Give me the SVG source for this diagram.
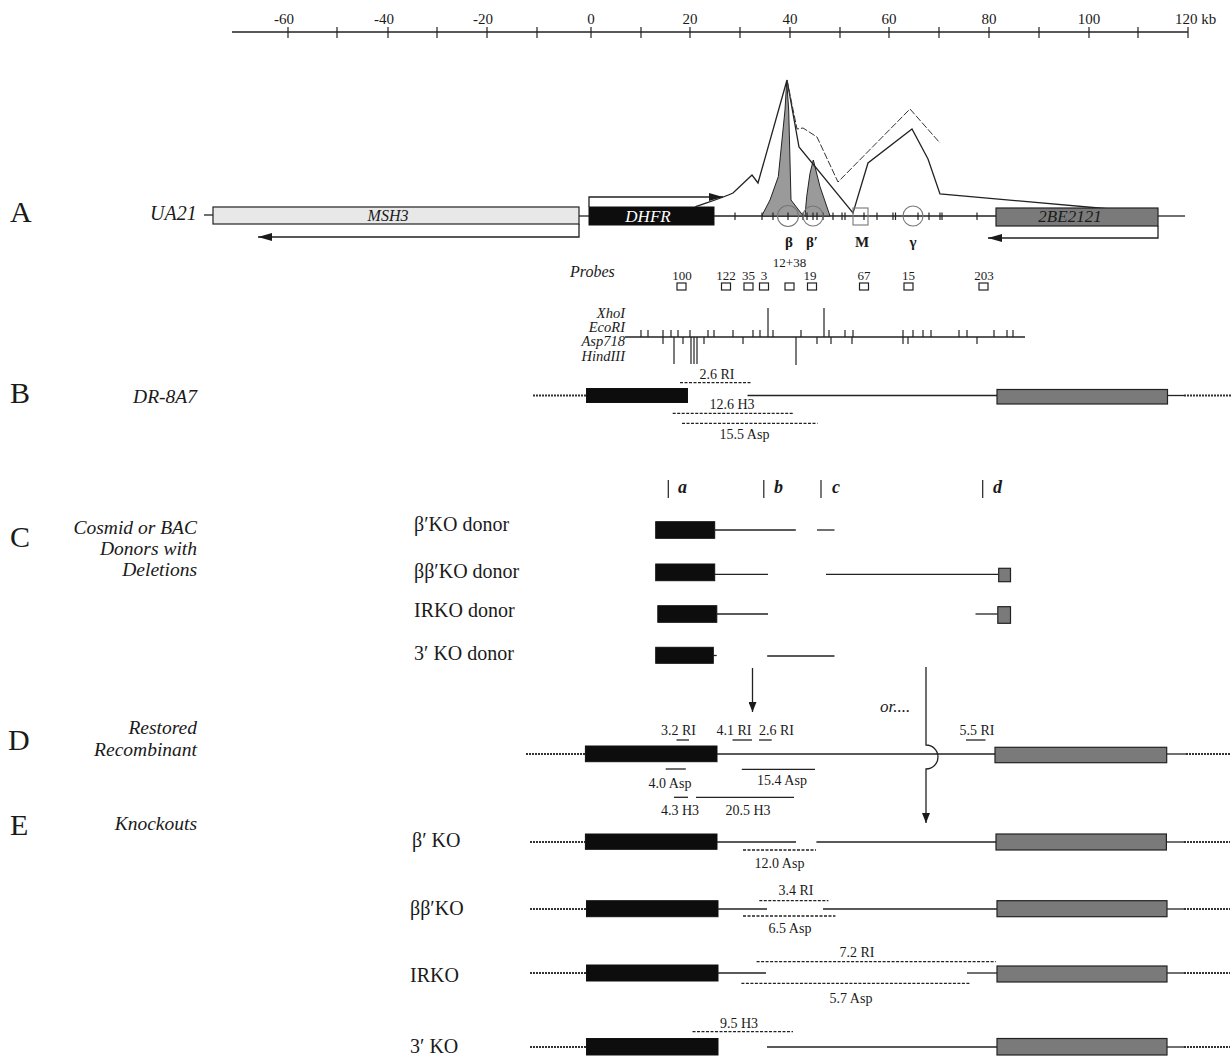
<svg xmlns="http://www.w3.org/2000/svg" width="1232" height="1058" viewBox="0 0 1232 1058">
<defs>
<marker id="ah" markerUnits="userSpaceOnUse" markerWidth="14" markerHeight="8" refX="14" refY="4" orient="auto">
<path d="M0,0 L14,4 L0,8 Z" fill="#1a1a1a"/>
</marker>
<marker id="ahs" markerUnits="userSpaceOnUse" markerWidth="10" markerHeight="8" refX="10" refY="4" orient="auto">
<path d="M0,0 L10,4 L0,8 Z" fill="#1a1a1a"/>
</marker>
</defs>
<style>
text{font-family:"Liberation Serif","DejaVu Serif",serif;fill:#1a1a1a}
.ln{stroke:#222;stroke-width:1.3;fill:none}
.tk{stroke:#222;stroke-width:1.2}
.dot{stroke:#333;stroke-width:2;stroke-dasharray:2 1;fill:none}
.dsh{stroke:#222;stroke-width:1.3;stroke-dasharray:3 1.5;fill:none}
.blk{fill:#0d0d0d;stroke:#111;stroke-width:1}
.gry{fill:#7a7a7a;stroke:#222;stroke-width:1.2}
.pan{font-size:30px}
.lab{font-size:19.5px;font-style:italic;text-anchor:end}
.row{font-size:20px}
.sm{font-size:14px;text-anchor:middle}
.sc{font-size:15px;text-anchor:middle}
.pr{font-size:13px;text-anchor:middle}
.en{font-size:14.5px;font-style:italic;text-anchor:end}
.gk{font-size:15px;font-weight:bold;text-anchor:middle}
.reg{font-size:18px;font-style:italic;font-weight:bold}
.pb{fill:#fff;stroke:#222;stroke-width:1.2}
.cir{fill:none;stroke:#777;stroke-width:1.1}
</style>

<g id="scale">
<line class="ln" x1="232" y1="32" x2="1188" y2="32"/>
<g class="tk">
<line x1="288" y1="27" x2="288" y2="38"/><line x1="337" y1="27" x2="337" y2="38"/><line x1="388" y1="27" x2="388" y2="38"/><line x1="437" y1="27" x2="437" y2="38"/><line x1="487" y1="27" x2="487" y2="38"/><line x1="537" y1="27" x2="537" y2="38"/><line x1="591" y1="27" x2="591" y2="38"/><line x1="641" y1="27" x2="641" y2="38"/><line x1="690" y1="27" x2="690" y2="38"/><line x1="740" y1="27" x2="740" y2="38"/><line x1="790" y1="27" x2="790" y2="38"/><line x1="840" y1="27" x2="840" y2="38"/><line x1="889" y1="27" x2="889" y2="38"/><line x1="939" y1="27" x2="939" y2="38"/><line x1="989" y1="27" x2="989" y2="38"/><line x1="1039" y1="27" x2="1039" y2="38"/><line x1="1089" y1="27" x2="1089" y2="38"/><line x1="1138" y1="27" x2="1138" y2="38"/><line x1="1188" y1="27" x2="1188" y2="38"/>
</g>
<text class="sc" x="284" y="24">-60</text><text class="sc" x="384" y="24">-40</text><text class="sc" x="483" y="24">-20</text><text class="sc" x="591" y="24">0</text><text class="sc" x="690" y="24">20</text><text class="sc" x="790" y="24">40</text><text class="sc" x="889" y="24">60</text><text class="sc" x="989" y="24">80</text><text class="sc" x="1089" y="24">100</text><text x="1175" y="24" font-size="15">120 kb</text>
</g>

<g id="panelA">
<text class="pan" x="10" y="222">A</text>
<text x="150" y="220" font-size="20" font-style="italic">UA21</text>
<line class="ln" x1="204" y1="215" x2="213" y2="215"/>
<g id="msh3">
<rect x="213" y="207" width="366" height="17" fill="#e8e8e8" stroke="#222" stroke-width="1.2"/>
<text x="388" y="221" font-size="16" font-style="italic" text-anchor="middle">MSH3</text>
<polyline class="ln" points="579,224 579,237 258,237" marker-end="url(#ah)"/>
</g>
<line class="ln" x1="579" y1="216" x2="589" y2="216"/>
<g id="dhfr">
<rect class="blk" x="589" y="207" width="125" height="18"/>
<text x="648" y="222" font-size="17" font-style="italic" text-anchor="middle" style="fill:#fff">DHFR</text>
<polyline class="ln" points="589,207 589,197 723,197" marker-end="url(#ah)"/>
</g>
<line class="ln" x1="714" y1="216" x2="996" y2="216"/>
<line class="ln" x1="1158" y1="216" x2="1185" y2="216"/>
<g id="profile">
<path d="M761.7,216 L770,200 L778.3,176.7 L785,110 L786.7,81 L788.7,110 L791,200 L803.3,216 Z" fill="#9a9a9a" stroke="#222" stroke-width="1"/>
<path d="M805,216 L806.7,196.7 L810,173.3 L813.3,160 L820,186.7 L830,216 Z" fill="#9a9a9a" stroke="#222" stroke-width="1"/>
<path class="ln" stroke-width="1.8" d="M695,207 C706,203 722,198 733,193 L752,175 L758,183 L787,80 L799,147 L853,213 L868,163 L912,129 L928,159 L940,194 L1110,209"/>
<path d="M787,80 L797,129 L803,128 L817,137 L838,182 L910,109 L940,143" fill="none" stroke="#333" stroke-width="1" stroke-dasharray="7 2"/>
</g>
<g class="tk">
<line x1="735" y1="212.5" x2="735" y2="220"/><line x1="762" y1="212.5" x2="762" y2="220"/><line x1="773" y1="212.5" x2="773" y2="220"/><line x1="788" y1="212.5" x2="788" y2="220"/><line x1="803" y1="212.5" x2="803" y2="220"/><line x1="807" y1="212.5" x2="807" y2="220"/><line x1="813" y1="212.5" x2="813" y2="220"/><line x1="817" y1="212.5" x2="817" y2="220"/><line x1="823" y1="212.5" x2="823" y2="220"/><line x1="833" y1="212.5" x2="833" y2="220"/><line x1="842" y1="212.5" x2="842" y2="220"/><line x1="845" y1="212.5" x2="845" y2="220"/><line x1="864" y1="212.5" x2="864" y2="220"/><line x1="877" y1="212.5" x2="877" y2="220"/><line x1="893" y1="212.5" x2="893" y2="220"/><line x1="895.5" y1="212.5" x2="895.5" y2="220"/><line x1="918" y1="212.5" x2="918" y2="220"/><line x1="929" y1="212.5" x2="929" y2="220"/><line x1="940" y1="212.5" x2="940" y2="220"/><line x1="942" y1="212.5" x2="942" y2="220"/><line x1="977" y1="212.5" x2="977" y2="220"/>
</g>
<g id="origins">
<circle class="cir" cx="788" cy="216" r="10.5"/>
<circle class="cir" cx="813" cy="216" r="10"/>
<rect class="cir" x="853" y="208" width="15" height="17"/>
<circle class="cir" cx="913" cy="216" r="10"/>
<text class="gk" x="789" y="247">β</text><text class="gk" x="812" y="247">β′</text><text class="gk" x="862" y="247">M</text><text class="gk" x="913" y="247">γ</text>
</g>
<g id="g2be2121">
<rect class="gry" x="996" y="208" width="162" height="18"/>
<text x="1070" y="222" font-size="17" font-style="italic" text-anchor="middle">2BE2121</text>
<polyline class="ln" points="1158,226 1158,238 988,238" marker-end="url(#ah)"/>
</g>
</g>

<g id="probes">
<text x="570" y="277" font-size="16" font-style="italic">Probes</text>
<text class="pr" x="682" y="280">100</text><text class="pr" x="726" y="280">122</text><text class="pr" x="748.5" y="280">35</text><text class="pr" x="764" y="280">3</text><text class="pr" x="789.5" y="267">12+38</text><text class="pr" x="810" y="280">19</text><text class="pr" x="864" y="280">67</text><text class="pr" x="908.5" y="280">15</text><text class="pr" x="984" y="280">203</text>
<rect class="pb" x="677" y="283" width="9" height="7"/><rect class="pb" x="721.5" y="283" width="9" height="7"/><rect class="pb" x="744" y="283" width="9" height="7"/><rect class="pb" x="759.5" y="283" width="9" height="7"/><rect class="pb" x="785" y="283" width="9" height="7"/><rect class="pb" x="807.5" y="283" width="9" height="7"/><rect class="pb" x="859.5" y="283" width="9" height="7"/><rect class="pb" x="904" y="283" width="9" height="7"/><rect class="pb" x="979" y="283" width="9" height="7"/>
</g>

<g id="restriction-map">
<text class="en" x="625" y="318">XhoI</text>
<text class="en" x="625" y="332">EcoRI</text>
<text class="en" x="625" y="346">Asp718</text>
<text class="en" x="625" y="361">HindIII</text>
<line class="ln" x1="625" y1="337" x2="1025" y2="337"/>
<g class="tk">
<line x1="641" y1="330" x2="641" y2="337"/><line x1="648" y1="330" x2="648" y2="337"/><line x1="663" y1="330" x2="663" y2="337"/><line x1="671" y1="330" x2="671" y2="337"/><line x1="678" y1="330" x2="678" y2="337"/><line x1="690" y1="330" x2="690" y2="337"/><line x1="708" y1="330" x2="708" y2="337"/><line x1="714" y1="330" x2="714" y2="337"/><line x1="733" y1="330" x2="733" y2="337"/><line x1="753" y1="330" x2="753" y2="337"/><line x1="760" y1="330" x2="760" y2="337"/><line x1="773" y1="330" x2="773" y2="337"/><line x1="801" y1="330" x2="801" y2="337"/><line x1="829" y1="330" x2="829" y2="337"/><line x1="845" y1="330" x2="845" y2="337"/><line x1="853" y1="330" x2="853" y2="337"/><line x1="903" y1="330" x2="903" y2="337"/><line x1="913" y1="330" x2="913" y2="337"/><line x1="923" y1="330" x2="923" y2="337"/><line x1="931" y1="330" x2="931" y2="337"/><line x1="959" y1="330" x2="959" y2="337"/><line x1="967" y1="330" x2="967" y2="337"/><line x1="994" y1="330" x2="994" y2="337"/><line x1="1007" y1="330" x2="1007" y2="337"/><line x1="1013" y1="330" x2="1013" y2="337"/>
<line x1="768" y1="308" x2="768" y2="337"/><line x1="824" y1="308" x2="824" y2="337"/>
<line x1="663" y1="337" x2="663" y2="344"/><line x1="683" y1="337" x2="683" y2="344"/><line x1="704" y1="337" x2="704" y2="344"/><line x1="743" y1="337" x2="743" y2="344"/><line x1="817" y1="337" x2="817" y2="344"/><line x1="831" y1="337" x2="831" y2="344"/><line x1="852" y1="337" x2="852" y2="344"/><line x1="903" y1="337" x2="903" y2="344"/><line x1="908" y1="337" x2="908" y2="344"/><line x1="977" y1="337" x2="977" y2="344"/>
<line x1="674" y1="337" x2="674" y2="364"/><line x1="691" y1="337" x2="691" y2="364"/><line x1="694" y1="337" x2="694" y2="364"/><line x1="697" y1="337" x2="697" y2="364"/><line x1="796" y1="337" x2="796" y2="365"/>
</g>
</g>

<g id="panelB">
<text class="pan" x="10" y="403">B</text>
<text class="lab" x="197" y="403">DR-8A7</text>
<line class="dot" x1="533" y1="395.5" x2="586" y2="395.5"/>
<rect class="blk" x="586.5" y="388.5" width="101" height="14"/>
<line class="ln" x1="747.5" y1="395.5" x2="997" y2="395.5"/>
<rect class="gry" x="997" y="389.5" width="170.5" height="14.5"/>
<line class="ln" x1="1167.5" y1="395.5" x2="1184" y2="395.5"/>
<line class="dot" x1="1184" y1="395.5" x2="1231" y2="395.5"/>
<line class="dsh" x1="680" y1="382.7" x2="752" y2="382.7"/>
<text class="sm" x="717" y="379">2.6 RI</text>
<line class="dsh" x1="672.7" y1="413.3" x2="794" y2="413.3"/>
<text class="sm" x="732" y="409">12.6 H3</text>
<line class="dsh" x1="682" y1="423.3" x2="817.5" y2="423.3"/>
<text class="sm" x="744.5" y="439">15.5 Asp</text>
</g>

<g id="panelC">
<text class="pan" x="10" y="547">C</text>
<text class="lab" x="197" y="534">Cosmid or BAC</text>
<text class="lab" x="197" y="555">Donors with</text>
<text class="lab" x="197" y="576">Deletions</text>
<g class="tk">
<line x1="668.3" y1="480" x2="668.3" y2="498"/><line x1="763.8" y1="480" x2="763.8" y2="498"/><line x1="821" y1="480" x2="821" y2="498"/><line x1="982.7" y1="480" x2="982.7" y2="498"/>
</g>
<text class="reg" x="678" y="493">a</text><text class="reg" x="774" y="493">b</text><text class="reg" x="832" y="493">c</text><text class="reg" x="993" y="493">d</text>
<g id="c-bprime">
<text class="row" x="414" y="531">β′KO donor</text>
<rect class="blk" x="655.7" y="521.7" width="59" height="16.6"/>
<line class="ln" x1="714.6" y1="530" x2="795.8" y2="530"/>
<line class="ln" x1="817" y1="530" x2="834.5" y2="530"/>
</g>
<g id="c-bbprime">
<text class="row" x="414" y="578">ββ′KO donor</text>
<rect class="blk" x="655.7" y="564" width="59" height="16.7"/>
<line class="ln" x1="714.6" y1="574.3" x2="768" y2="574.3"/>
<line class="ln" x1="826" y1="574.3" x2="998.7" y2="574.3"/>
<rect class="gry" x="998.7" y="568.3" width="11.8" height="13.4"/>
</g>
<g id="c-irko">
<text class="row" x="414" y="617">IRKO donor</text>
<rect class="blk" x="657.8" y="605.7" width="59" height="16.6"/>
<line class="ln" x1="716.7" y1="614" x2="768" y2="614"/>
<line class="ln" x1="975.5" y1="614" x2="997.8" y2="614"/>
<rect class="gry" x="997.8" y="606.7" width="12.7" height="16.6"/>
</g>
<g id="c-3ko">
<text class="row" x="414" y="660">3′ KO donor</text>
<rect class="blk" x="655.7" y="647.3" width="57.6" height="16"/>
<line class="ln" x1="713.3" y1="655.5" x2="716.7" y2="655.5"/>
<line class="ln" x1="767.2" y1="656" x2="834.5" y2="656"/>
</g>
</g>

<g id="panelD">
<text class="pan" x="8" y="750">D</text>
<text class="lab" x="197" y="734">Restored</text>
<text class="lab" x="197" y="756">Recombinant</text>
<text x="880" y="712" font-size="17" font-style="italic">or....</text>
<line class="dot" x1="526" y1="754" x2="585" y2="754"/>
<rect class="blk" x="585.4" y="746" width="131.6" height="15.7"/>
<line class="ln" x1="717" y1="754" x2="995" y2="754"/>
<rect class="gry" x="995" y="747.3" width="171.7" height="15.4"/>
<line class="ln" x1="1166.7" y1="754" x2="1186" y2="754"/>
<line class="dot" x1="1186" y1="754" x2="1231" y2="754"/>
<text class="sm" x="678.5" y="735">3.2 RI</text><line class="ln" x1="676.5" y1="740" x2="689" y2="740"/>
<text class="sm" x="734" y="735">4.1 RI</text><line class="ln" x1="732.5" y1="740" x2="752" y2="740"/>
<text class="sm" x="776.5" y="735">2.6 RI</text><line class="ln" x1="759" y1="740" x2="771.7" y2="740"/>
<text class="sm" x="977" y="735">5.5 RI</text><line class="ln" x1="966" y1="740" x2="985.5" y2="740"/>
<line class="ln" x1="665.7" y1="769" x2="685.8" y2="769"/><text class="sm" x="670" y="788">4.0 Asp</text>
<line class="ln" x1="741.8" y1="769.3" x2="815" y2="769.3"/><text class="sm" x="782" y="785">15.4 Asp</text>
<line class="ln" x1="674" y1="797.3" x2="688" y2="797.3"/><line class="ln" x1="696" y1="797.3" x2="794" y2="797.3"/>
<text class="sm" x="680" y="815">4.3 H3</text><text class="sm" x="748" y="815">20.5 H3</text>
</g>

<g id="panelE">
<text class="pan" x="10" y="835">E</text>
<text class="lab" x="197" y="830">Knockouts</text>
<g id="e-bprime">
<text class="row" x="412" y="847">β′ KO</text>
<line class="dot" x1="530" y1="842" x2="585" y2="842"/>
<rect class="blk" x="585.4" y="834" width="131.6" height="15.3"/>
<line class="ln" x1="717" y1="842" x2="796" y2="842"/>
<line class="ln" x1="816.4" y1="842" x2="996" y2="842"/>
<rect class="gry" x="996" y="834" width="170.4" height="16"/>
<line class="ln" x1="1166.4" y1="842" x2="1184" y2="842"/>
<line class="dot" x1="1184" y1="842" x2="1230" y2="842"/>
<line class="dsh" x1="743" y1="850" x2="816" y2="850"/>
<text class="sm" x="779.5" y="868">12.0 Asp</text>
</g>
<g id="e-bbprime">
<text class="row" x="410" y="915">ββ′KO</text>
<line class="dot" x1="530" y1="909" x2="586" y2="909"/>
<rect class="blk" x="586.5" y="900.7" width="131.5" height="16"/>
<line class="ln" x1="718" y1="909" x2="767" y2="909"/>
<line class="ln" x1="823" y1="909" x2="997" y2="909"/>
<rect class="gry" x="997" y="900.7" width="170" height="16"/>
<line class="ln" x1="1167" y1="909" x2="1184" y2="909"/>
<line class="dot" x1="1184" y1="909" x2="1230" y2="909"/>
<line class="dsh" x1="759.3" y1="900.7" x2="828.4" y2="900.7"/>
<text class="sm" x="796" y="895">3.4 RI</text>
<line class="dsh" x1="743" y1="916" x2="835.4" y2="916"/>
<text class="sm" x="790" y="933">6.5 Asp</text>
</g>
<g id="e-irko">
<text class="row" x="410" y="982">IRKO</text>
<line class="dot" x1="530" y1="973" x2="586" y2="973"/>
<rect class="blk" x="586.5" y="965" width="131.5" height="16"/>
<line class="ln" x1="718" y1="973" x2="766" y2="973"/>
<line class="ln" x1="967" y1="973" x2="997" y2="973"/>
<rect class="gry" x="997" y="966" width="170" height="16"/>
<line class="ln" x1="1167" y1="973" x2="1184" y2="973"/>
<line class="dot" x1="1184" y1="973" x2="1230" y2="973"/>
<line class="dsh" x1="756.6" y1="961.7" x2="995.8" y2="961.7"/>
<text class="sm" x="857" y="957">7.2 RI</text>
<line class="dsh" x1="741.4" y1="983.3" x2="969.7" y2="983.3"/>
<text class="sm" x="851" y="1003">5.7 Asp</text>
</g>
<g id="e-3ko">
<text class="row" x="410" y="1053">3′ KO</text>
<line class="dot" x1="530" y1="1047" x2="586" y2="1047"/>
<rect class="blk" x="586.5" y="1038.5" width="131.5" height="16.5"/>
<line class="ln" x1="767" y1="1047" x2="997" y2="1047"/>
<rect class="gry" x="997" y="1038.5" width="170" height="16.5"/>
<line class="ln" x1="1167" y1="1047" x2="1184" y2="1047"/>
<line class="dot" x1="1184" y1="1047" x2="1230" y2="1047"/>
<line class="dsh" x1="692.5" y1="1031.7" x2="793" y2="1031.7"/>
<text class="sm" x="739" y="1028">9.5 H3</text>
</g>
</g>

<g id="connectors">
<line class="ln" x1="752.5" y1="668" x2="752.5" y2="712" marker-end="url(#ahs)"/>
<path class="ln" d="M926,667 V745 A12,12 0 0 1 926,769 V823" marker-end="url(#ahs)"/>
</g>
</svg>
